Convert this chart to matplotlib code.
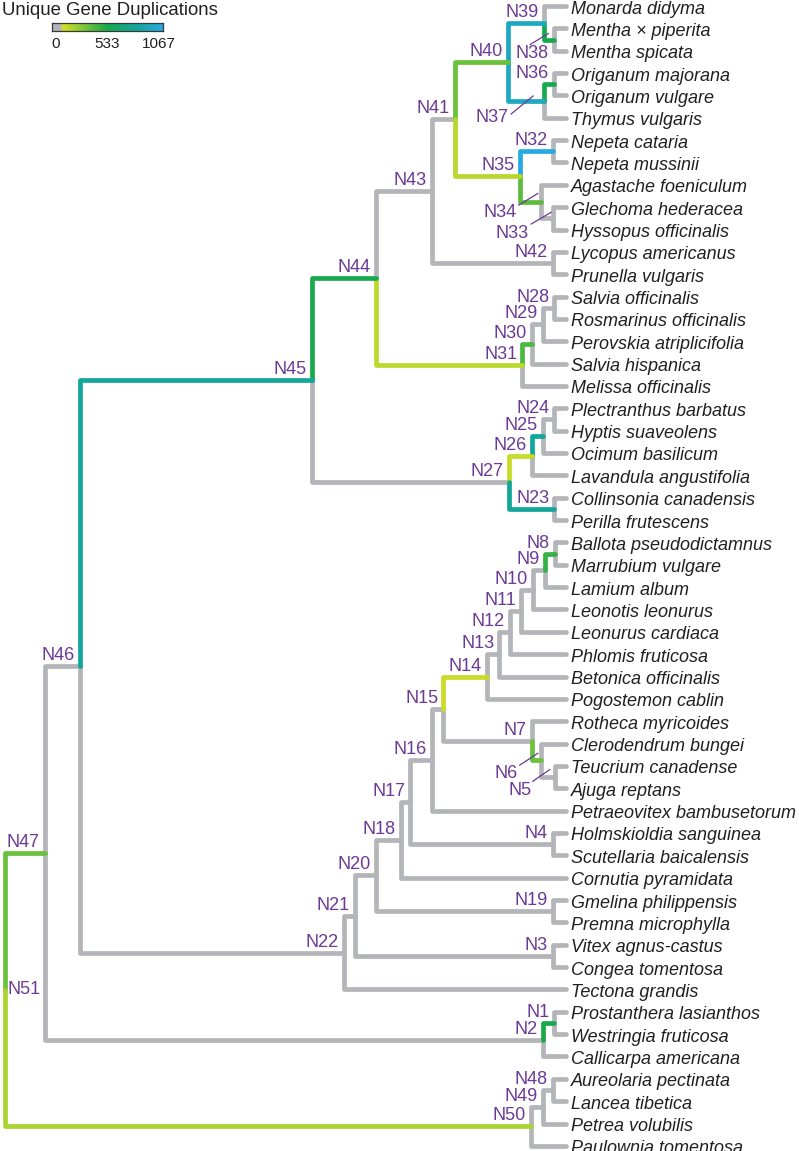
import matplotlib
matplotlib.use("Agg")
import matplotlib.pyplot as plt
import numpy as np
from matplotlib.colors import LinearSegmentedColormap

# ---------------- data ----------------
leaves = [
    "Monarda didyma", "Mentha \u00d7 piperita", "Mentha spicata", "Origanum majorana",
    "Origanum vulgare", "Thymus vulgaris", "Nepeta cataria", "Nepeta mussinii",
    "Agastache foeniculum", "Glechoma hederacea", "Hyssopus officinalis",
    "Lycopus americanus", "Prunella vulgaris", "Salvia officinalis",
    "Rosmarinus officinalis", "Perovskia atriplicifolia", "Salvia hispanica",
    "Melissa officinalis", "Plectranthus barbatus", "Hyptis suaveolens",
    "Ocimum basilicum", "Lavandula angustifolia", "Collinsonia canadensis",
    "Perilla frutescens", "Ballota pseudodictamnus", "Marrubium vulgare",
    "Lamium album", "Leonotis leonurus", "Leonurus cardiaca", "Phlomis fruticosa",
    "Betonica officinalis", "Pogostemon cablin", "Rotheca myricoides",
    "Clerodendrum bungei", "Teucrium canadense", "Ajuga reptans",
    "Petraeovitex bambusetorum", "Holmskioldia sanguinea", "Scutellaria baicalensis",
    "Cornutia pyramidata", "Gmelina philippensis", "Premna microphylla",
    "Vitex agnus-castus", "Congea tomentosa", "Tectona grandis",
    "Prostanthera lasianthos", "Westringia fruticosa", "Callicarpa americana",
    "Aureolaria pectinata", "Lancea tibetica", "Petrea volubilis",
    "Paulownia tomentosa",
]

node_names = ["N%d" % i for i in range(1, 52)]
node_child_a = [
    "Prostanthera lasianthos", "N1", "Vitex agnus-castus", "Holmskioldia sanguinea",
    "Teucrium canadense", "Clerodendrum bungei", "Rotheca myricoides",
    "Ballota pseudodictamnus", "N8", "N9", "N10", "N11", "N12", "N13", "N14", "N15",
    "N16", "N17", "Gmelina philippensis", "N18", "N20", "N21",
    "Collinsonia canadensis", "Plectranthus barbatus", "N24", "N25", "N26",
    "Salvia officinalis", "N28", "N29", "N30", "Nepeta cataria",
    "Glechoma hederacea", "Agastache foeniculum", "N32", "Origanum majorana", "N36",
    "Mentha \u00d7 piperita", "Monarda didyma", "N39", "N40", "Lycopus americanus",
    "N41", "N43", "N44", "N45", "N46", "Aureolaria pectinata", "N48", "N49", "N47",
]
node_child_b = [
    "Westringia fruticosa", "Callicarpa americana", "Congea tomentosa",
    "Scutellaria baicalensis", "Ajuga reptans", "N5", "N6", "Marrubium vulgare",
    "Lamium album", "Leonotis leonurus", "Leonurus cardiaca", "Phlomis fruticosa",
    "Betonica officinalis", "Pogostemon cablin", "N7", "Petraeovitex bambusetorum",
    "N4", "Cornutia pyramidata", "Premna microphylla", "N19", "N3", "Tectona grandis",
    "Perilla frutescens", "Hyptis suaveolens", "Ocimum basilicum",
    "Lavandula angustifolia", "N23", "Rosmarinus officinalis",
    "Perovskia atriplicifolia", "Salvia hispanica", "Melissa officinalis",
    "Nepeta mussinii", "Hyssopus officinalis", "N33", "N34", "Origanum vulgare",
    "Thymus vulgaris", "Mentha spicata", "N38", "N37", "N35", "Prunella vulgaris",
    "N42", "N31", "N27", "N22", "N2", "Lancea tibetica", "Petrea volubilis",
    "Paulownia tomentosa", "N50",
]
# distance from root, as % of root-to-tip length (tips = 100)
node_depth = [
    97.9, 95.9, 97.7, 97.7, 98.0, 95.5, 93.9, 98.0, 96.3, 94.1,
    92.0, 90.0, 88.1, 85.9, 78.1, 76.1, 72.2, 70.6, 97.7, 66.1,
    62.4, 60.4, 97.9, 97.9, 95.9, 93.9, 89.8, 97.9, 95.9, 93.9,
    92.2, 97.7, 97.7, 95.5, 91.8, 97.9, 96.1, 97.9, 96.1, 89.7,
    80.2, 97.7, 76.1, 66.1, 54.7, 13.4, 7.1, 97.7, 95.9, 93.8,
    0.0,
]
# unique gene duplications on the branch leading to each node
node_dups = [
    533, 0, 0, 0, 0, 350, 0, 470, 0, 0,
    0, 0, 0, 130, 0, 0, 0, 0, 0, 0,
    0, 0, 800, 0, 800, 140, 0, 0, 0, 415,
    165, 1067, 0, 380, 175, 540, 950, 540, 950, 348,
    0, 0, 0, 540, 800, 0, 348, 0, 0, 206,
    0,
]
dup_max = 1067
cbar_ticks = [0, 533, 1067]

# ---------------- layout ----------------
W, H = 799, 1151
X0, XS = 5.0, 5.61      # pixel of root, pixels per depth unit
Y0, YS = 6.0, 22.35     # pixel of first leaf row, pixels per row
LW = 3.4
GRAY = "#b4b5b9"
PURPLE = "#6b3a96"
TXT = "#231f20"
FONT = ["Liberation Sans", "DejaVu Sans"]
FS = 13.0

cmap = LinearSegmentedColormap.from_list("dups", [
    (0.0, GRAY), (0.07, GRAY), (0.1, "#d5df26"), (0.5, "#18a94c"),
    (0.75, "#13a69a"), (1.0, "#27a9e1")])

fig = plt.figure(figsize=(W / 100, H / 100), dpi=100)
ax = fig.add_axes([0, 0, 1, 1])
ax.set_xlim(-X0 / XS, (W - X0) / XS)
ax.set_ylim((H - Y0) / YS, -Y0 / YS)
ax.axis("off")

def px(dx, dy):
    return dx / XS, dy / YS

# positions
pos = {}
for i, name in enumerate(leaves):
    pos[name] = (100.0, float(i))
dups = {name: 0 for name in leaves}
kids = {}
for n, a, b, d, v in zip(node_names, node_child_a, node_child_b, node_depth, node_dups):
    kids[n] = (a, b)
    dups[n] = v
    pos[n] = (d, None)

def ycoord(n):
    if n in leaves:
        return pos[n][1]
    if pos[n][1] is None:
        a, b = kids[n]
        pos[n] = (pos[n][0], (ycoord(a) + ycoord(b)) / 2.0)
    return pos[n][1]

for n in node_names:
    ycoord(n)

# edges: gray first, coloured on top
edges = []
for p in node_names:
    xp, yp = pos[p]
    for c in kids[p]:
        xc, yc = pos[c]
        edges.append((dups[c], [xp, xp, xc], [yp, yc, yc]))
edges.sort(key=lambda e: e[0] > 0)
for v, xs, ys in edges:
    ax.plot(xs, ys, color=cmap(v / dup_max), lw=LW,
            solid_capstyle="round", solid_joinstyle="round", zorder=2)

# leaf labels
for name in leaves:
    x, y = pos[name]
    dx, dy = px(5, 7.5)
    ax.text(x + dx, y + dy, name, ha="left", va="baseline", style="italic",
            fontsize=FS, family=FONT, color=TXT, zorder=3)

# node labels
special = {   # text offset (px), leader line start, leader line end (px, from node)
    "N38": ((-6, 18.5), (-24, 5), (-6, -6)),
    "N37": ((-36, 21), (-33, 13), (-11, -5)),
    "N34": ((-24, 15.4), (-22, 3.5), (-3, -8)),
    "N33": ((-24, 19.7), (-22, 5.7), (-2, -6)),
    "N6": ((-23, 17.8), (-21, 4.8), (-3, -7)),
    "N5": ((-23, 18.2), (-22, 4.2), (-5, -7.5)),
}
for n in node_names:
    x, y = pos[n]
    if n == "N51":
        dx, dy = px(3, 0)
        ax.text(x + dx, y + dy, n, ha="left", va="center", fontsize=FS,
                family=FONT, color=PURPLE, zorder=4)
    elif n in special:
        (tx, ty), (sx, sy), (ex, ey) = special[n]
        dx, dy = px(tx, ty)
        ax.text(x + dx, y + dy, n, ha="right", va="baseline", fontsize=FS,
                family=FONT, color=PURPLE, zorder=4)
        x1, y1 = px(sx, sy)
        x2, y2 = px(ex, ey)
        ax.plot([x + x1, x + x2], [y + y1, y + y2], color=PURPLE, lw=0.9, zorder=4)
    else:
        dx, dy = px(-5, -6)
        ax.text(x + dx, y + dy, n, ha="right", va="baseline", fontsize=FS,
                family=FONT, color=PURPLE, zorder=4)

# ---------------- colour legend ----------------
fig.text(2 / W, 1 - 15 / H, "Unique Gene Duplications", ha="left", va="baseline",
         fontsize=13.4, family=FONT, color=TXT)
cax = fig.add_axes([52 / W, 1 - 31 / H, (163 - 52) / W, 8 / H])
grad = np.linspace(0, 1, 256)[None, :]
cax.imshow(grad, aspect="auto", cmap=cmap, extent=[0, 1, 0, 1])
cax.set_xticks([])
cax.set_yticks([])
for s in cax.spines.values():
    s.set_edgecolor("#3a3a3a")
    s.set_linewidth(0.9)
for t in cbar_ticks:
    xpx = 56 + (159 - 56) * t / dup_max
    fig.text(xpx / W, 1 - 48 / H, str(t), ha="center", va="baseline",
             fontsize=11, family=FONT, color=TXT)

fig.savefig("out.png", dpi=100)
